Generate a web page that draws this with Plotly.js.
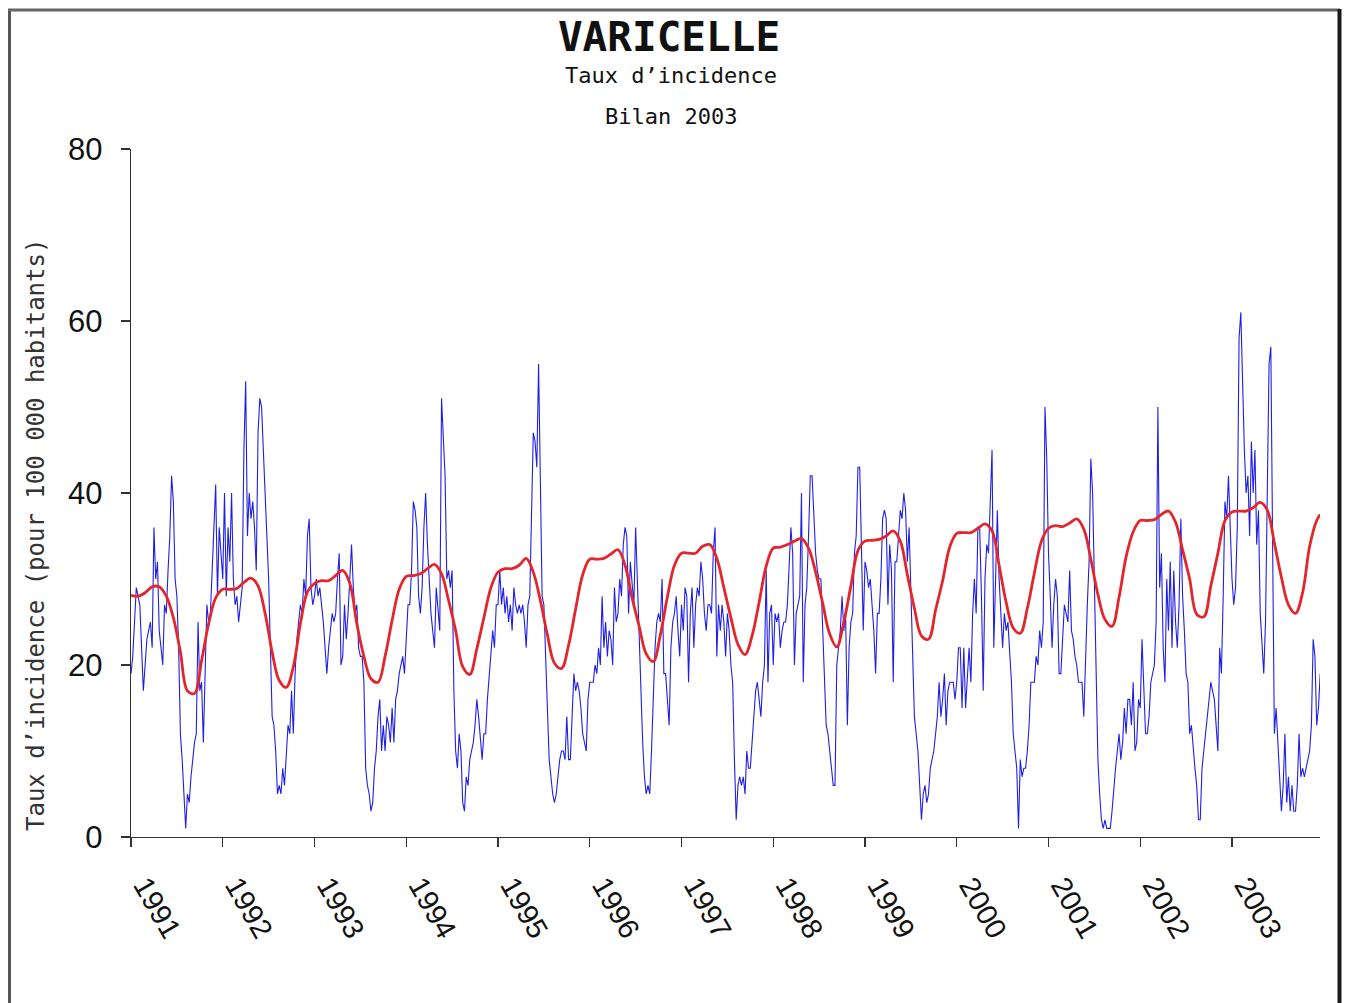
<!DOCTYPE html>
<html>
<head>
<meta charset="utf-8">
<script src="https://cdn.plot.ly/plotly-3.0.1.min.js"></script>
<style>
  html, body { margin: 0; padding: 0; background: #ffffff; }
  #chart { width: 1345px; height: 1003px; }
</style>
</head>
<body>
<div id="chart"></div>
<script>
// ---- Data: weekly incidence rate (per 100 000), one array per year ----
const years = [1991, 1992, 1993, 1994, 1995, 1996, 1997, 1998, 1999, 2000, 2001, 2002, 2003];
const tickLabels = ["1991","1992","1993","1994","1995","1996","1997","1998","1999","2000","2001","2002","2003"];

const v1991 = [19,21,25,29,28,27,22,17,20,23,24,25,22,36,30,32,24,22,20,27,26,31,35,42,39,30,28,22,12,9,5,1,5,4,7,9,11,12,25,17,18,11,21,27,25,26,31,36,41,28,36,33];
const v1992 = [30,40,28,36,32,40,30,27,28,25,27,29,45,53,35,40,37,39,36,31,47,51,50,45,38,33,30,22,14,13,10,5,6,5,8,6,10,13,12,17,12,19,23,25,27,26,30,28,35,37,29,27];
const v1993 = [28,30,28,29,27,25,22,19,22,24,26,25,26,30,33,20,21,27,23,26,31,34,29,26,27,22,21,21,18,8,6,5,3,4,8,10,14,16,10,13,10,14,13,11,15,11,16,17,19,20,21,19];
const v1994 = [24,27,27,31,39,38,36,28,26,29,36,40,34,29,26,24,22,29,26,24,51,47,42,30,31,29,31,17,10,8,12,10,4,3,7,6,9,10,11,13,16,14,11,9,12,12,16,19,21,24,22,27];
const v1995 = [27,31,27,29,26,28,25,27,24,29,27,26,27,26,27,25,22,27,28,38,47,46,43,55,40,28,27,22,15,9,7,5,4,5,7,9,10,10,9,14,9,9,14,19,17,18,17,15,12,11,10,16];
const v1996 = [18,18,18,20,19,22,20,28,22,25,21,24,23,20,29,25,26,30,28,34,36,35,26,32,29,27,36,30,22,16,11,7,5,6,5,10,17,22,25,26,25,30,19,19,16,13,22,25,26,28,24,21];
const v1997 = [27,24,29,28,18,26,29,22,27,29,28,32,30,26,24,27,27,26,33,36,21,27,24,27,25,21,26,24,20,18,9,2,6,7,6,7,5,10,8,8,11,14,17,18,16,14,18,20,31,18,26,27];
const v1998 = [20,26,25,26,22,24,25,25,27,31,36,33,20,26,27,28,40,18,27,29,35,42,42,38,33,31,30,30,24,18,13,12,10,8,6,6,20,22,24,28,24,26,13,22,25,26,33,35,43,43,34,24];
const v1999 = [32,31,29,30,27,24,19,26,26,30,37,38,37,27,34,31,18,32,32,35,38,37,40,38,32,36,28,23,14,12,10,6,2,5,6,4,5,8,9,10,12,14,18,14,16,19,13,17,18,18,18,16];
const v2000 = [18,22,22,15,22,15,18,22,18,26,30,26,36,36,28,17,30,34,33,38,45,22,30,38,30,26,22,26,24,25,22,18,12,10,8,1,9,7,8,8,10,13,18,18,18,21,20,24,22,25,50,44];
const v2001 = [33,28,22,27,30,28,19,19,24,27,26,25,31,24,23,21,20,18,18,18,14,22,27,32,44,40,28,18,9,5,2,1,2,1,1,1,3,6,8,10,12,9,11,15,12,16,16,13,18,10,11,16];
const v2002 = [15,23,17,12,12,14,18,19,20,25,50,29,33,22,18,30,24,32,22,31,25,22,27,37,28,24,19,18,12,13,10,8,6,2,2,8,10,12,14,16,18,17,16,13,10,22,19,28,39,37,42,36];
const v2003 = [30,27,29,36,58,61,52,45,40,42,35,46,40,45,34,38,26,22,19,25,38,55,57,30,12,15,11,7,3,6,12,4,7,3,6,3,3,6,12,7,8,7,8,9,10,13,23,21,13,15,19];

// ---- Seasonal baseline (red), sampled every 4 weeks of each year ----
const r1991 = [28.1,28.0,28.4,29.1,29.1,28.0,25.5,21.5,17.0,16.7,20.5,24.8,27.8];
const r1992 = [28.8,28.8,28.9,29.6,30.1,29.2,26.0,21.5,18.2,17.4,19.8,24.8,28.5];
const r1993 = [29.5,29.8,29.8,30.4,31.0,29.5,24.8,21.0,18.4,18.0,21.0,25.2,28.8];
const r1994 = [30.3,30.4,30.6,31.2,31.7,30.6,27.5,24.0,19.8,18.9,21.9,25.5,29.0];
const r1995 = [30.8,31.2,31.2,31.6,32.4,30.8,27.5,23.5,20.2,19.6,22.3,26.5,30.5];
const r1996 = [32.3,32.3,32.4,32.9,33.4,31.6,27.8,24.5,21.3,20.4,23.5,27.9,31.6];
const r1997 = [33.0,33.0,33.0,33.8,34.0,32.4,29.0,25.5,22.4,21.2,23.4,27.3,31.5];
const r1998 = [33.6,33.7,34.0,34.4,34.7,33.6,30.8,27.2,23.6,22.1,25.0,29.2,33.3];
const r1999 = [34.4,34.5,34.6,35.0,35.6,34.4,30.5,26.6,23.4,23.0,26.4,29.8,33.7];
const r2000 = [35.3,35.4,35.4,35.9,36.4,35.6,31.6,27.3,24.3,23.7,26.6,30.7,34.4];
const r2001 = [35.9,36.2,36.1,36.5,37.0,35.8,32.3,28.2,25.3,24.5,27.9,32.6,35.5];
const r2002 = [36.8,36.8,36.9,37.5,37.9,36.6,33.4,30.0,25.9,25.6,29.2,33.0,36.8];
const r2003 = [37.8,37.9,37.9,38.3,38.9,38.0,34.2,30.2,27.0,26.0,28.4,33.8,36.8,37.5];

const weeklyByYear = [v1991,v1992,v1993,v1994,v1995,v1996,v1997,v1998,v1999,v2000,v2001,v2002,v2003];
const baselineByYear = [r1991,r1992,r1993,r1994,r1995,r1996,r1997,r1998,r1999,r2000,r2001,r2002,r2003];
const baselineStepWeeks = 4;
const lastBaselineWeek = 50; // final baseline point of 2003

// ---- Build traces ----
const bx = [], by = [];
weeklyByYear.forEach((arr, yi) => {
  arr.forEach((v, w) => { bx.push(years[yi] + w / 52); by.push(v); });
});
const rx = [], ry = [];
baselineByYear.forEach((arr, yi) => {
  arr.forEach((v, k) => {
    const wk = (k < 13) ? k * baselineStepWeeks : lastBaselineWeek;
    rx.push(years[yi] + wk / 52); ry.push(v);
  });
});

const traces = [
  { x: bx, y: by, type: 'scatter', mode: 'lines', name: 'Taux',
    line: { color: '#1f1fe6', width: 1.1 }, hoverinfo: 'skip' },
  { x: rx, y: ry, type: 'scatter', mode: 'lines', name: 'Seuil',
    line: { color: '#e3262b', width: 2.8, shape: 'spline', smoothing: 1 }, hoverinfo: 'skip' }
];

// pixel helpers for annotations/shapes in paper coords
const L = 131, R = 1320, T = 149, B = 837;
const px = (p) => (p - L) / (R - L);
const py = (p) => (B - p) / (B - T);

const layout = {
  width: 1345, height: 1003,
  margin: { l: L, r: 1345 - R, t: T, b: 1003 - B, pad: 0 },
  paper_bgcolor: '#ffffff', plot_bgcolor: '#ffffff',
  showlegend: false,
  title: { text: '<b>VARICELLE</b>', x: 669 / 1345, xanchor: 'center', y: 1 - 37 / 1003, yanchor: 'middle',
           font: { family: 'DejaVu Sans Mono', size: 41, color: '#111111' } },
  xaxis: {
    range: [1991, 1991 + (R - L) / 91.75],
    tickvals: years, ticktext: tickLabels, tickangle: 60,
    ticks: 'outside', ticklen: 9, tickwidth: 1.2, tickcolor: '#333333',
    showline: true, linecolor: '#333333', linewidth: 1.2,
    showgrid: false, zeroline: false,
    ticklabelstandoff: 10, ticklabelshift: 14,
    tickfont: { family: 'Liberation Sans', size: 29, color: '#111111' }
  },
  yaxis: {
    range: [0, 80], tickvals: [0, 20, 40, 60, 80],
    ticks: 'outside', ticklen: 9, tickwidth: 1.2, tickcolor: '#333333',
    showline: true, linecolor: '#333333', linewidth: 1.2,
    showgrid: false, zeroline: false,
    ticklabelstandoff: 12,
    tickfont: { family: 'Liberation Sans', size: 31, color: '#111111' }
  },
  annotations: [
    { text: 'Taux d’incidence', xref: 'paper', yref: 'paper', x: px(671), y: py(76),
      xanchor: 'center', yanchor: 'middle', showarrow: false,
      font: { family: 'DejaVu Sans Mono', size: 22, color: '#111111' } },
    { text: 'Bilan 2003', xref: 'paper', yref: 'paper', x: px(671), y: py(117),
      xanchor: 'center', yanchor: 'middle', showarrow: false,
      font: { family: 'DejaVu Sans Mono', size: 22, color: '#111111' } },
    { text: 'Taux d’incidence (pour 100 000 habitants)', xref: 'paper', yref: 'paper',
      x: px(36), y: py(535), xanchor: 'center', yanchor: 'middle', textangle: -90, showarrow: false,
      font: { family: 'DejaVu Sans Mono', size: 24, color: '#333333' } }
  ],
  shapes: [
    { type: 'line', xref: 'paper', yref: 'paper', x0: px(9.5), x1: px(9.5), y0: py(9), y1: py(1010),
      line: { color: '#555555', width: 3 } },
    { type: 'line', xref: 'paper', yref: 'paper', x0: px(8), x1: px(1340), y0: py(10), y1: py(10),
      line: { color: '#666666', width: 3 } },
    { type: 'line', xref: 'paper', yref: 'paper', x0: px(1339.5), x1: px(1339.5), y0: py(9), y1: py(1010),
      line: { color: '#1a1a1a', width: 4 } }
  ]
};

Plotly.newPlot('chart', traces, layout, { displayModeBar: false, staticPlot: true });
</script>
</body>
</html>
